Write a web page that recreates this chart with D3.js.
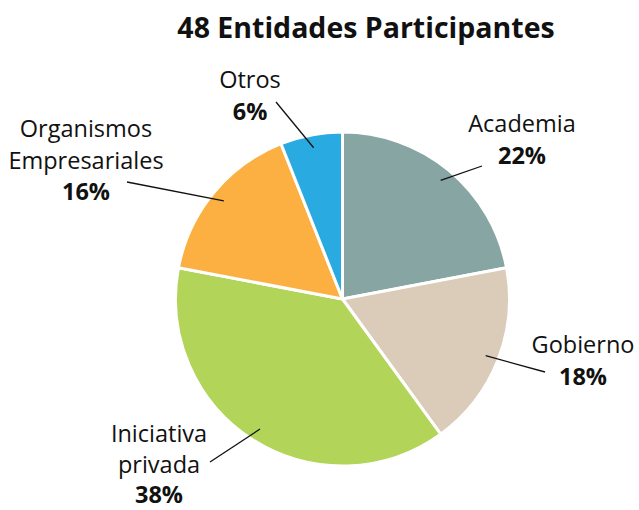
<!DOCTYPE html>
<html>
<head>
<meta charset="utf-8">
<script src="https://cdn.jsdelivr.net/npm/d3@7"></script>
<style>
  body { margin: 0; background: #fff; }
  text { font-family: "Open Sans", "Noto Sans", sans-serif; fill: #111; }
</style>
</head>
<body>
<div id="chart"></div>
<script>
const width = 639, height = 510;

// data
const categories = ["Academia", "Gobierno", "Iniciativa privada", "Organismos Empresariales", "Otros"];
const percents = [22, 18, 38, 16, 6];
const colors = ["#86a5a3", "#dbcbb9", "#b2d458", "#fbb041", "#29aae1"];
const labelLines = [["Academia"], ["Gobierno"], ["Iniciativa", "privada"], ["Organismos", "Empresariales"], ["Otros"]];

// label placement, relative to pie centre (text x, first baseline, line gap, leader end)
const labelLayout = [
  {tx: 179.5, ty: -167, gap: 31.5, lx: 139.5, ly: -133},
  {tx: 240.5, ty: 54, gap: 31.5, lx: 202.5, ly: 73},
  {tx: -183.5, ty: 143, gap: 30.5, lx: -132.5, ly: 163},
  {tx: -256.5, ty: -162, gap: 31.5, lx: -215.5, ly: -117},
  {tx: -92.5, ty: -211, gap: 31.5, lx: -66.5, ly: -197}
];

const cx = 342.5, cy = 299, radius = 167;

const svg = d3.select('#chart')
    .append('svg')
    .attr('width', width)
    .attr('height', height);

svg.append('text')
    .attr('x', 366)
    .attr('y', 38)
    .attr('text-anchor', 'middle')
    .style('font-weight', 'bold')
    .style('font-size', '28.5px')
    .text('48 Entidades Participantes');

const g = svg.append('g')
    .attr('transform', 'translate(' + cx + ',' + cy + ')');

const pie = d3.pie().sort(null).value(d => d.value);
const arcs = pie(categories.map((c, i) => ({name: c, value: percents[i], i: i})));

const arc = d3.arc().innerRadius(0).outerRadius(radius);
const inner = d3.arc().innerRadius(154 * 2).outerRadius(0); // centroid at r=154

g.selectAll('path.slice')
    .data(arcs)
    .enter().append('path')
    .attr('class', 'slice')
    .attr('d', arc)
    .attr('fill', d => colors[d.data.i])
    .attr('stroke', '#fff')
    .attr('stroke-width', 3)
    .attr('stroke-linejoin', 'round');

// leader lines
g.selectAll('line.leader')
    .data(arcs)
    .enter().append('line')
    .attr('class', 'leader')
    .attr('x1', d => inner.centroid(d)[0])
    .attr('y1', d => inner.centroid(d)[1])
    .attr('x2', d => labelLayout[d.data.i].lx)
    .attr('y2', d => labelLayout[d.data.i].ly)
    .attr('stroke', '#111')
    .attr('stroke-width', 1.3);

// labels
const labels = g.selectAll('text.lbl')
    .data(arcs)
    .enter().append('text')
    .attr('class', 'lbl')
    .attr('text-anchor', 'middle')
    .style('font-size', '23.5px');

labels.each(function(d) {
    const L = labelLayout[d.data.i];
    const t = d3.select(this);
    const lines = labelLines[d.data.i];
    lines.forEach((s, k) => {
        t.append('tspan')
            .attr('x', L.tx)
            .attr('y', L.ty + k * L.gap)
            .text(s);
    });
    t.append('tspan')
        .attr('x', L.tx)
        .attr('y', L.ty + lines.length * L.gap)
        .style('font-weight', 'bold')
        .text(percents[d.data.i] + '%');
});
</script>
</body>
</html>
